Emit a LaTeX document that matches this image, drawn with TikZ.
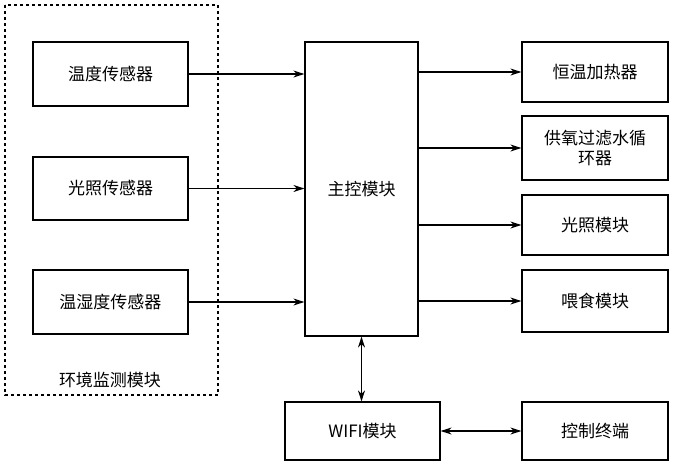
\documentclass[tikz,border=0pt]{standalone}
\usepackage{fontspec}
\setmainfont{Noto Sans CJK SC}
\usetikzlibrary{arrows.meta}
\begin{document}
\begin{tikzpicture}[x=1pt,y=-1pt,line width=1.2pt,
 box/.style={draw,inner sep=0pt,align=center,font=\fontsize{17}{20}\selectfont},
 arr/.style={-{Stealth[length=11pt,width=7pt]}},
 darr/.style={{Stealth[length=11pt,width=7pt]}-{Stealth[length=11pt,width=7pt]}}]
\useasboundingbox (0,0) rectangle (681,475);
\draw[dashed] (5,5) rectangle (218,395);
\node[box,minimum width=155pt,minimum height=64pt] (t) at (110.5,74) {温度传感器};
\node[box,minimum width=155pt,minimum height=63pt] (l) at (110.5,188.5) {光照传感器};
\node[box,minimum width=155pt,minimum height=64pt] (h) at (110.5,302) {温湿度传感器};
\node[font=\fontsize{17}{20}\selectfont] (env) at (110,380) {环境监测模块};
\node[box,minimum width=113pt,minimum height=294pt] (m) at (361.5,189) {主控模块};
\node[box,minimum width=146pt,minimum height=60pt] (r1) at (595,72) {恒温加热器};
\node[box,minimum width=146pt,minimum height=64pt] (r2) at (595,148) {供氧过滤水循\\环器};
\node[box,minimum width=146pt,minimum height=60pt] (r3) at (595,225) {光照模块};
\node[box,minimum width=146pt,minimum height=62pt] (r4) at (595,301) {喂食模块};
\node[box,minimum width=155pt,minimum height=58pt] (w) at (362.5,431) {WIFI模块};
\node[box,minimum width=146pt,minimum height=58pt] (c) at (595,431) {控制终端};
\draw[arr] (t.east) -- (t.east -| m.west);
\draw[arr] (l.east) -- (l.east -| m.west);
\draw[arr] (h.east) -- (h.east -| m.west);
\draw[arr] (r1.west -| m.east) -- (r1.west);
\draw[arr] (r2.west -| m.east) -- (r2.west);
\draw[arr] (r3.west -| m.east) -- (r3.west);
\draw[arr] (r4.west -| m.east) -- (r4.west);
\draw[darr] (m.south) -- (m.south |- w.north);
\draw[darr] (w.east) -- (c.west);
\end{tikzpicture}
\end{document}
